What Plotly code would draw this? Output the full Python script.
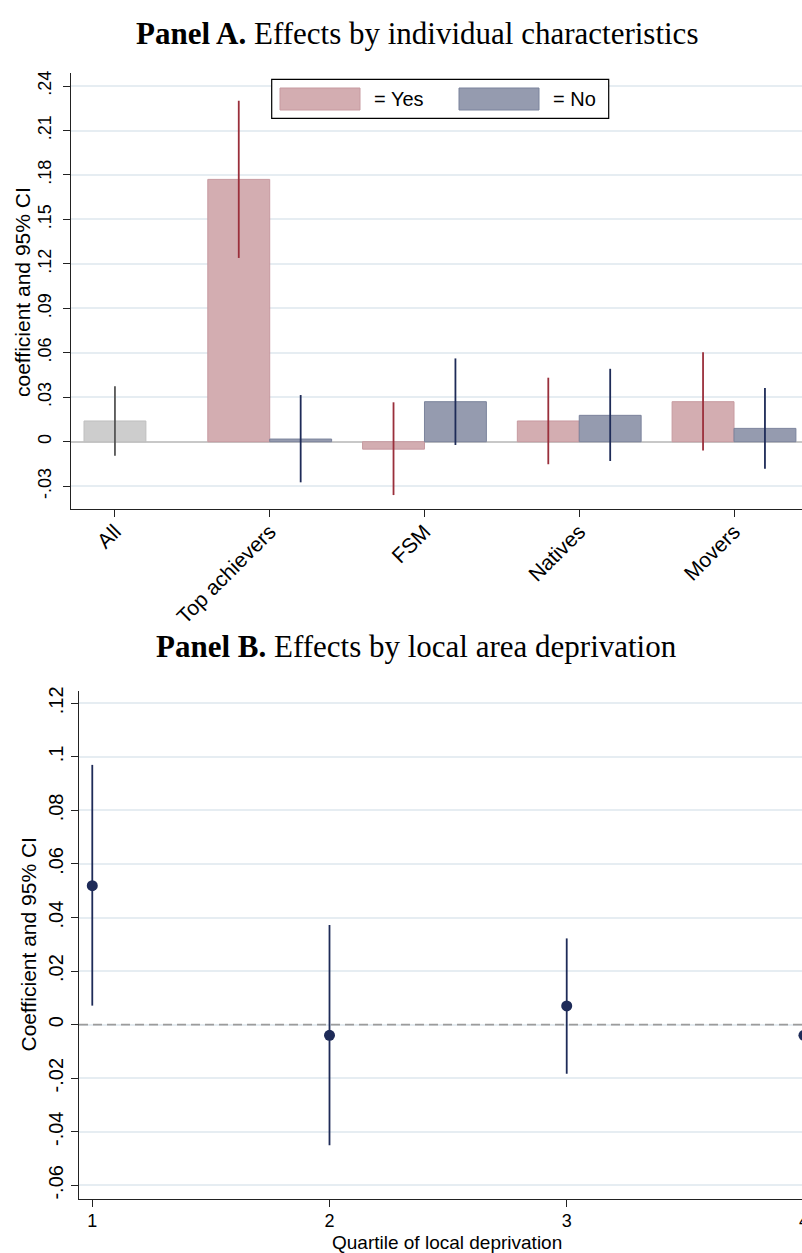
import plotly.graph_objects as go

# ---------------- Panel A data ----------------
categories = ["All", "Top achievers", "FSM", "Natives", "Movers"]
all_coef = [0.014]
all_lo = [-0.0094]
all_hi = [0.0374]
sub_categories = ["Top achievers", "FSM", "Natives", "Movers"]
yes_coef = [0.177, -0.005, 0.014, 0.027]
yes_lo = [0.124, -0.036, -0.0152, -0.006]
yes_hi = [0.230, 0.0266, 0.0432, 0.0603]
no_coef = [0.0018, 0.027, 0.0178, 0.009]
no_lo = [-0.0274, -0.0022, -0.013, -0.0182]
no_hi = [0.0315, 0.0562, 0.0492, 0.0362]
a_tickvals = [-0.03, 0, 0.03, 0.06, 0.09, 0.12, 0.15, 0.18, 0.21, 0.24]
a_ticktext = ["-.03", "0", ".03", ".06", ".09", ".12", ".15", ".18", ".21", ".24"]

# ---------------- Panel B data ----------------
quartiles = [1, 2, 3, 4]
q_coef = [0.0519, -0.004, 0.007, -0.004]
q_lo = [0.0071, -0.045, -0.0183, -0.030]
q_hi = [0.097, 0.0372, 0.0322, 0.022]
b_tickvals = [-0.06, -0.04, -0.02, 0, 0.02, 0.04, 0.06, 0.08, 0.1, 0.12]
b_ticktext = ["-.06", "-.04", "-.02", "0", ".02", ".04", ".06", ".08", ".1", ".12"]
q_ticktext = ["1", "2", "3", "4"]

# ---------------- styles ----------------
SANS = "Liberation Sans, Arial, Helvetica, sans-serif"
SERIF = "Liberation Serif, Times New Roman, serif"
YES_FILL, YES_LINE, YES_CI = "#d3adb1", "#c79aa0", "#9a2f3b"
NO_FILL, NO_LINE, NO_CI = "#959baf", "#7b839c", "#1e2b58"
ALL_FILL, ALL_LINE, ALL_CI = "#cdcdcd", "#bfbfbf", "#555555"
GRID = "#e6edf2"
AXIS = "#222222"
NAVY = "#1e2b58"

# The original figure is slightly wider than the 802px view; it is cropped on the right.
W, H = 812, 1253


def px(x):
    return x / W


def py(y):
    return 1 - y / H


A_XDOM = [px(71), 1]
A_YDOM = [py(509), py(72.7)]
B_XDOM = [px(79), 1]
B_YDOM = [py(1198.7), py(690.7)]
A_XRANGE = [-0.284, 4.504]
A_YRANGE = [-0.0454, 0.249]
B_XRANGE = [0.944, 4.034]
B_YRANGE = [-0.065, 0.1247]


def err(coef, lo, hi, color):
    return dict(type="data", symmetric=False,
                array=[h - c for c, h in zip(coef, hi)],
                arrayminus=[c - l for c, l in zip(coef, lo)],
                color=color, thickness=1.8, width=0)


fig = go.Figure()

fig.add_trace(go.Bar(x=categories[:1], y=all_coef, width=0.4, offset=-0.2,
                     marker=dict(color=ALL_FILL, line=dict(color=ALL_LINE, width=1)),
                     error_y=err(all_coef, all_lo, all_hi, ALL_CI),
                     showlegend=False, xaxis="x", yaxis="y"))
fig.add_trace(go.Bar(x=sub_categories, y=yes_coef, width=0.4, offset=-0.4,
                     marker=dict(color=YES_FILL, line=dict(color=YES_LINE, width=1)),
                     error_y=err(yes_coef, yes_lo, yes_hi, YES_CI),
                     name="= Yes", showlegend=False, xaxis="x", yaxis="y"))
fig.add_trace(go.Bar(x=sub_categories, y=no_coef, width=0.4, offset=0,
                     marker=dict(color=NO_FILL, line=dict(color=NO_LINE, width=1)),
                     error_y=err(no_coef, no_lo, no_hi, NO_CI),
                     name="= No", showlegend=False, xaxis="x", yaxis="y"))

# dashed zero reference line (panel B), drawn under the estimates
fig.add_trace(go.Scatter(x=B_XRANGE, y=[0, 0], mode="lines",
                         line=dict(color="#9c9c9c", width=1.8, dash="9px,5px"),
                         hoverinfo="skip", showlegend=False,
                         xaxis="x2", yaxis="y2"))

fig.add_trace(go.Scatter(x=quartiles, y=q_coef, mode="markers",
                         marker=dict(color=NAVY, size=11),
                         error_y=err(q_coef, q_lo, q_hi, NAVY),
                         cliponaxis=False, showlegend=False,
                         xaxis="x2", yaxis="y2"))

common_axis = dict(showline=True, linecolor=AXIS, linewidth=1.3,
                   ticks="outside", ticklen=7, tickwidth=1.3, tickcolor=AXIS,
                   automargin=False)

fig.update_layout(
    width=W, height=H,
    margin=dict(l=0, r=0, t=0, b=0),
    paper_bgcolor="white", plot_bgcolor="white",
    template="none",
    barmode="overlay",
    xaxis=dict(domain=A_XDOM, anchor="y", type="category",
               categoryorder="array", categoryarray=categories,
               range=A_XRANGE, tickangle=-45,
               tickfont=dict(family=SANS, size=21, color="black"),
               ticklabelstandoff=-6,
               showgrid=False, zeroline=False, **common_axis),
    yaxis=dict(domain=A_YDOM, anchor="x",
               range=A_YRANGE, tickvals=a_tickvals, ticktext=a_ticktext,
               tickangle=-90, tickfont=dict(family=SANS, size=18, color="black"),
               ticklabelstandoff=5,
               showgrid=True, gridcolor=GRID, gridwidth=1.5,
               zeroline=True, zerolinecolor="#c8c8c8", zerolinewidth=1.6,
               **common_axis),
    xaxis2=dict(domain=B_XDOM, anchor="y2",
                range=B_XRANGE, tickvals=quartiles, ticktext=q_ticktext,
                tickfont=dict(family=SANS, size=18, color="black"),
                ticklabelstandoff=-1,
                showgrid=False, zeroline=False, **common_axis),
    yaxis2=dict(domain=B_YDOM, anchor="x2",
                range=B_YRANGE, tickvals=b_tickvals, ticktext=b_ticktext,
                tickangle=-90, tickfont=dict(family=SANS, size=20, color="black"),
                ticklabelstandoff=0,
                showgrid=True, gridcolor=GRID, gridwidth=1.5,
                zeroline=False, **common_axis),
)

# custom legend (Stata-style wide swatches)
fig.add_shape(type="rect", xref="paper", yref="paper",
              x0=px(271.7), x1=px(608.7), y0=py(118.3), y1=py(79.3),
              line=dict(color="black", width=1.2), fillcolor="white", layer="above")
fig.add_shape(type="rect", xref="paper", yref="paper",
              x0=px(280), x1=px(360), y0=py(110), y1=py(88),
              line=dict(color=YES_LINE, width=1), fillcolor=YES_FILL, layer="above")
fig.add_shape(type="rect", xref="paper", yref="paper",
              x0=px(459), x1=px(539), y0=py(110), y1=py(88),
              line=dict(color=NO_LINE, width=1), fillcolor=NO_FILL, layer="above")
fig.add_annotation(text="= Yes", xref="paper", yref="paper", x=px(372), y=py(99),
                   xanchor="left", yanchor="middle", showarrow=False,
                   font=dict(family=SANS, size=20, color="black"))
fig.add_annotation(text="= No", xref="paper", yref="paper", x=px(551), y=py(99),
                   xanchor="left", yanchor="middle", showarrow=False,
                   font=dict(family=SANS, size=20, color="black"))

# panel titles
fig.add_annotation(text="<b>Panel A.</b> Effects by individual characteristics",
                   xref="paper", yref="paper", x=px(417), y=py(33),
                   xanchor="center", yanchor="middle", showarrow=False,
                   font=dict(family=SERIF, size=31, color="black"))
fig.add_annotation(text="<b>Panel B.</b> Effects by local area deprivation",
                   xref="paper", yref="paper", x=px(417), y=py(646),
                   xanchor="center", yanchor="middle", showarrow=False,
                   font=dict(family=SERIF, size=31, color="black"))

# axis titles
fig.add_annotation(text="coefficient and 95% CI", xref="paper", yref="paper",
                   x=px(23), y=py(292), textangle=-90,
                   xanchor="center", yanchor="middle", showarrow=False,
                   font=dict(family=SANS, size=21, color="black"))
fig.add_annotation(text="Coefficient and 95% CI", xref="paper", yref="paper",
                   x=px(28), y=py(944.5), textangle=-90,
                   xanchor="center", yanchor="middle", showarrow=False,
                   font=dict(family=SANS, size=21, color="black"))
fig.add_annotation(text="Quartile of local deprivation", xref="paper", yref="paper",
                   x=px(447), y=py(1242.5),
                   xanchor="center", yanchor="middle", showarrow=False,
                   font=dict(family=SANS, size=19, color="black"))

fig.write_html("out.html", config={"displayModeBar": False},
               post_script="document.body.style.margin='0';document.body.style.overflow='hidden';")
